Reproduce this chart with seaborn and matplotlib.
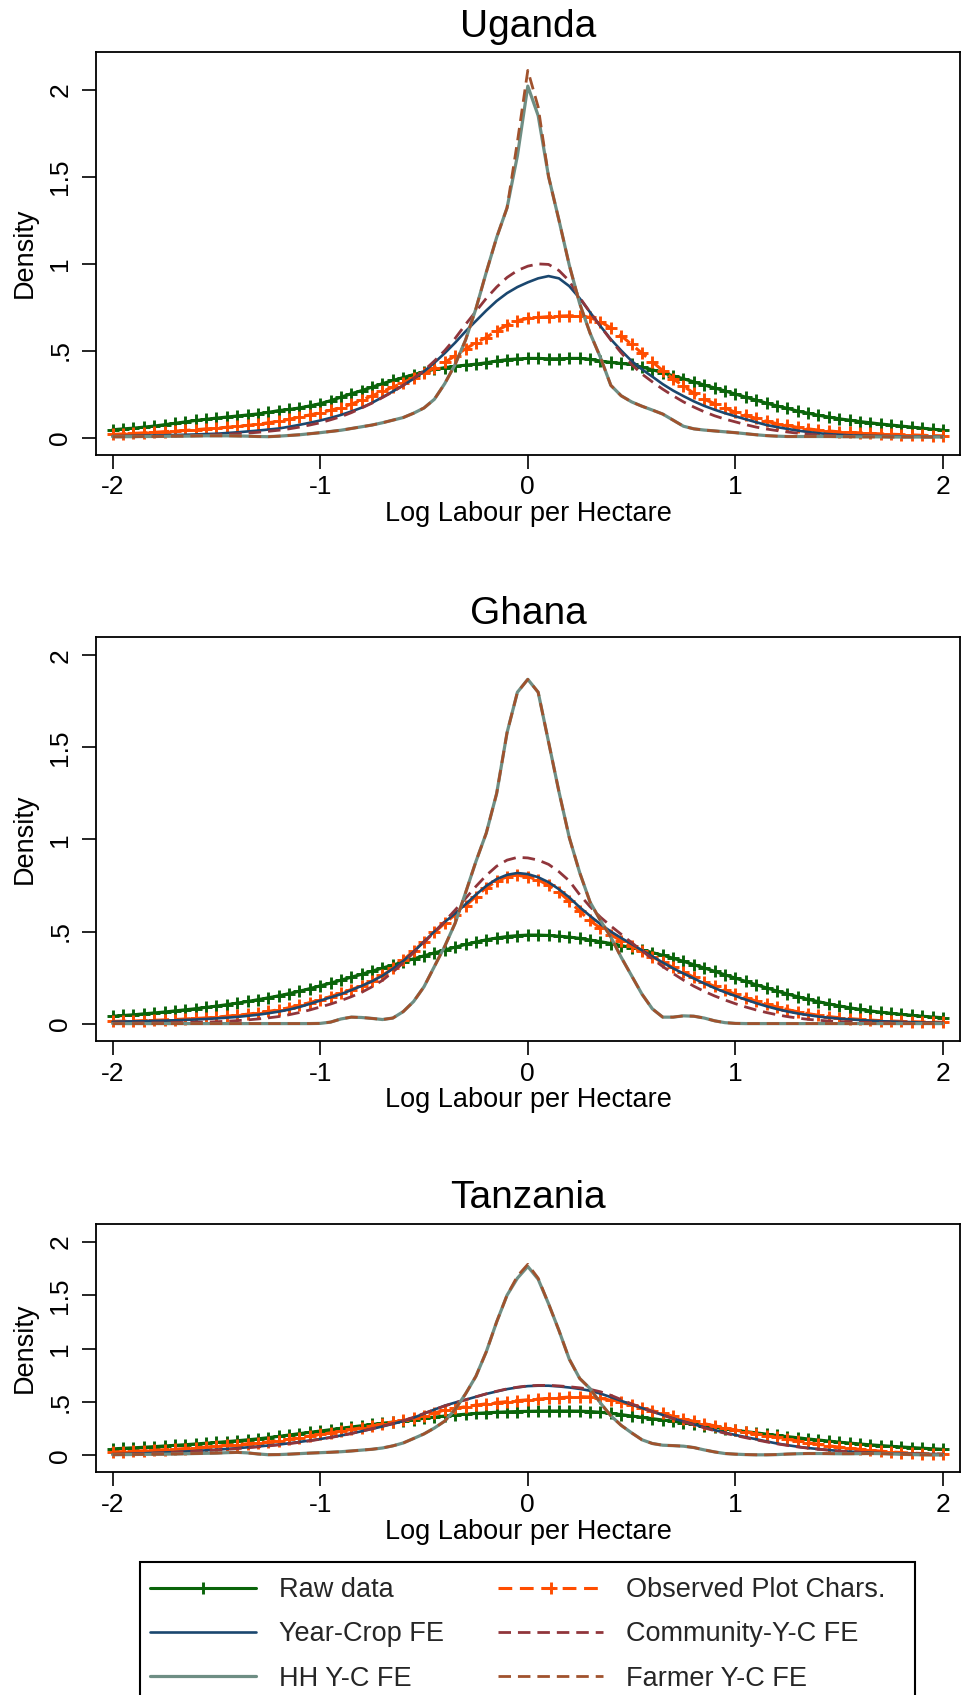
import numpy as np
import matplotlib
matplotlib.use("Agg")
import matplotlib.pyplot as plt
import seaborn as sns
from matplotlib.lines import Line2D
from matplotlib.patches import Rectangle

# ---------------- data (kernel density estimates) ----------------
# evaluation grid: -2.00, -1.95, ..., 2.00
x_grid = np.round(np.linspace(-2.0, 2.0, 81), 2)

series_labels = ["Raw data", "Observed Plot Chars.", "Year-Crop FE",
                 "Community-Y-C FE", "HH Y-C FE", "Farmer Y-C FE"]
panel_titles = ["Uganda", "Ghana", "Tanzania"]
x_ticks = [-2, -1, 0, 1, 2]
x_tick_labels = ["-2", "-1", "0", "1", "2"]
y_ticks = [0, 0.5, 1, 1.5, 2]
y_tick_labels = ["0", ".5", "1", "1.5", "2"]

# ---- Uganda ----
ug_raw = [0.045, 0.050, 0.054, 0.060, 0.066, 0.074, 0.082, 0.090, 0.098, 0.105,
          0.112, 0.118, 0.124, 0.130, 0.136, 0.145, 0.155, 0.162, 0.170, 0.182,
          0.195, 0.212, 0.232, 0.252, 0.270, 0.290, 0.310, 0.328, 0.345, 0.362,
          0.378, 0.392, 0.402, 0.410, 0.416, 0.422, 0.430, 0.440, 0.448, 0.452,
          0.455,
          0.455, 0.453, 0.453, 0.455, 0.455, 0.450, 0.440, 0.432, 0.426, 0.420,
          0.405, 0.390, 0.372, 0.355, 0.338, 0.320, 0.302, 0.285, 0.268, 0.250,
          0.232, 0.215, 0.198, 0.182, 0.168, 0.152, 0.140, 0.128, 0.118, 0.108,
          0.100, 0.092, 0.085, 0.078, 0.072, 0.066, 0.060, 0.054, 0.048, 0.043]
ug_obs = [0.018, 0.021, 0.024, 0.027, 0.030, 0.034, 0.037, 0.041, 0.045, 0.050,
          0.054, 0.059, 0.064, 0.070, 0.077, 0.085, 0.094, 0.105, 0.118, 0.130,
          0.143, 0.157, 0.172, 0.192, 0.215, 0.240, 0.265, 0.290, 0.315, 0.345,
          0.372, 0.400, 0.432, 0.470, 0.510, 0.545, 0.575, 0.615, 0.645, 0.672,
          0.685,
          0.690, 0.695, 0.698, 0.700, 0.700, 0.690, 0.665, 0.630, 0.585, 0.535,
          0.485, 0.435, 0.385, 0.338, 0.295, 0.255, 0.220, 0.195, 0.170, 0.145,
          0.127, 0.110, 0.093, 0.080, 0.070, 0.058, 0.050, 0.043, 0.038, 0.033,
          0.030, 0.027, 0.024, 0.021, 0.019, 0.017, 0.015, 0.013, 0.011, 0.010]
ug_yc = [0.008, 0.009, 0.010, 0.011, 0.012, 0.013, 0.015, 0.016, 0.018, 0.020,
         0.022, 0.026, 0.030, 0.035, 0.040, 0.046, 0.052, 0.062, 0.073, 0.085,
         0.098, 0.113, 0.130, 0.150, 0.172, 0.200, 0.232, 0.265, 0.300, 0.338,
         0.380, 0.430, 0.485, 0.545, 0.610, 0.670, 0.730, 0.785, 0.830, 0.865,
         0.892,
         0.915, 0.928, 0.915, 0.870, 0.800, 0.720, 0.640, 0.565, 0.500, 0.440,
         0.392, 0.350, 0.307, 0.270, 0.238, 0.208, 0.182, 0.160, 0.140, 0.122,
         0.105, 0.088, 0.072, 0.060, 0.050, 0.040, 0.032, 0.025, 0.020, 0.016,
         0.013, 0.011, 0.010, 0.009, 0.008, 0.007, 0.006, 0.006, 0.005, 0.005]
ug_comm = [0.004, 0.004, 0.005, 0.006, 0.007, 0.008, 0.009, 0.010, 0.012, 0.014,
           0.016, 0.019, 0.022, 0.026, 0.030, 0.036, 0.042, 0.050, 0.060, 0.072,
           0.085, 0.102, 0.120, 0.143, 0.170, 0.198, 0.230, 0.263, 0.300, 0.340,
           0.385, 0.440, 0.500, 0.570, 0.650, 0.725, 0.800, 0.865, 0.920, 0.960,
           0.985,
           0.998, 0.995, 0.960, 0.900, 0.805, 0.720, 0.640, 0.560, 0.487, 0.420,
           0.365, 0.320, 0.278, 0.240, 0.205, 0.175, 0.148, 0.125, 0.106, 0.090,
           0.074, 0.060, 0.049, 0.040, 0.032, 0.025, 0.019, 0.015, 0.012, 0.010,
           0.008, 0.007, 0.006, 0.005, 0.005, 0.004, 0.004, 0.003, 0.003, 0.003]
ug_hh = [0.005, 0.005, 0.005, 0.006, 0.006, 0.007, 0.008, 0.008, 0.009, 0.010,
         0.010, 0.010, 0.009, 0.008, 0.006, 0.005, 0.008, 0.012, 0.016, 0.022,
         0.028, 0.035, 0.042, 0.052, 0.062, 0.072, 0.085, 0.100, 0.115, 0.140,
         0.170, 0.220, 0.310, 0.420, 0.560, 0.740, 0.950, 1.150, 1.320, 1.620,
         2.020,
         1.850, 1.500, 1.250, 0.990, 0.770, 0.600, 0.460, 0.300, 0.240, 0.205,
         0.180, 0.158, 0.135, 0.100, 0.065, 0.050, 0.043, 0.038, 0.033, 0.028,
         0.022, 0.016, 0.011, 0.008, 0.006, 0.006, 0.006, 0.006, 0.006, 0.005,
         0.005, 0.004, 0.004, 0.004, 0.003, 0.003, 0.003, 0.003, 0.003, 0.003]
ug_farmer = [0.005, 0.005, 0.005, 0.006, 0.006, 0.007, 0.008, 0.008, 0.009, 0.010,
             0.010, 0.010, 0.009, 0.008, 0.006, 0.005, 0.008, 0.012, 0.016, 0.022,
             0.028, 0.035, 0.042, 0.052, 0.062, 0.072, 0.085, 0.100, 0.115, 0.140,
             0.170, 0.220, 0.310, 0.420, 0.560, 0.740, 0.950, 1.150, 1.320, 1.700,
             2.110,
             1.900, 1.500, 1.250, 0.990, 0.770, 0.600, 0.460, 0.300, 0.240, 0.205,
             0.180, 0.158, 0.135, 0.100, 0.065, 0.050, 0.043, 0.038, 0.033, 0.028,
             0.022, 0.016, 0.011, 0.008, 0.006, 0.006, 0.006, 0.006, 0.006, 0.005,
             0.005, 0.004, 0.004, 0.004, 0.003, 0.003, 0.003, 0.003, 0.003, 0.003]

# ---- Ghana ----
gh_raw = [0.040, 0.044, 0.048, 0.053, 0.058, 0.063, 0.069, 0.075, 0.081, 0.088,
          0.095, 0.103, 0.111, 0.120, 0.130, 0.140, 0.151, 0.163, 0.176, 0.190,
          0.205, 0.220, 0.236, 0.252, 0.268, 0.285, 0.302, 0.318, 0.335, 0.352,
          0.368, 0.384, 0.400, 0.415, 0.430, 0.443, 0.455, 0.465, 0.473, 0.478,
          0.481,
          0.481, 0.479, 0.475, 0.470, 0.463, 0.454, 0.445, 0.435, 0.424, 0.413,
          0.400, 0.386, 0.371, 0.355, 0.338, 0.320, 0.302, 0.284, 0.265, 0.247,
          0.229, 0.211, 0.194, 0.177, 0.161, 0.146, 0.132, 0.119, 0.107, 0.096,
          0.086, 0.077, 0.069, 0.062, 0.056, 0.050, 0.045, 0.040, 0.036, 0.032]
gh_obs = [0.012, 0.013, 0.014, 0.016, 0.018, 0.020, 0.022, 0.025, 0.028, 0.031,
          0.035, 0.040, 0.045, 0.051, 0.058, 0.066, 0.075, 0.086, 0.099, 0.114,
          0.130, 0.147, 0.166, 0.185, 0.205, 0.230, 0.262, 0.300, 0.345, 0.395,
          0.445, 0.495, 0.545, 0.592, 0.640, 0.690, 0.738, 0.775, 0.798, 0.805,
          0.798,
          0.780, 0.752, 0.715, 0.665, 0.610, 0.560, 0.518, 0.482, 0.450, 0.422,
          0.392, 0.362, 0.333, 0.305, 0.280, 0.252, 0.226, 0.202, 0.180, 0.160,
          0.140, 0.122, 0.105, 0.090, 0.076, 0.064, 0.054, 0.045, 0.038, 0.032,
          0.027, 0.023, 0.019, 0.016, 0.014, 0.012, 0.010, 0.009, 0.008, 0.007]
gh_yc = [0.010, 0.011, 0.012, 0.013, 0.015, 0.016, 0.018, 0.020, 0.022, 0.025,
         0.028, 0.032, 0.036, 0.042, 0.048, 0.056, 0.065, 0.076, 0.090, 0.107,
         0.125, 0.142, 0.160, 0.182, 0.205, 0.230, 0.260, 0.298, 0.340, 0.390,
         0.445, 0.500, 0.552, 0.598, 0.648, 0.700, 0.748, 0.785, 0.808, 0.818,
         0.812,
         0.795, 0.768, 0.730, 0.685, 0.632, 0.585, 0.540, 0.500, 0.465, 0.432,
         0.398, 0.365, 0.332, 0.300, 0.272, 0.245, 0.218, 0.193, 0.170, 0.150,
         0.130, 0.111, 0.094, 0.079, 0.066, 0.055, 0.046, 0.038, 0.032, 0.027,
         0.023, 0.019, 0.016, 0.013, 0.011, 0.009, 0.008, 0.006, 0.005, 0.004]
gh_comm = [0.003, 0.003, 0.003, 0.004, 0.004, 0.004, 0.005, 0.006, 0.007, 0.008,
           0.010, 0.013, 0.016, 0.020, 0.025, 0.031, 0.038, 0.048, 0.060, 0.074,
           0.090, 0.106, 0.125, 0.146, 0.170, 0.200, 0.235, 0.280, 0.330, 0.385,
           0.440, 0.497, 0.555, 0.617, 0.680, 0.745, 0.805, 0.855, 0.888, 0.903,
           0.900,
           0.888, 0.865, 0.825, 0.775, 0.700, 0.635, 0.578, 0.530, 0.485, 0.440,
           0.395, 0.352, 0.310, 0.272, 0.236, 0.203, 0.175, 0.150, 0.128, 0.108,
           0.090, 0.074, 0.060, 0.048, 0.038, 0.030, 0.023, 0.018, 0.014, 0.011,
           0.009, 0.007, 0.006, 0.005, 0.004, 0.004, 0.003, 0.003, 0.003, 0.003]
gh_hh = [0.000, 0.000, 0.000, 0.000, 0.000, 0.000, 0.000, 0.000, 0.000, 0.000,
         0.000, 0.000, 0.000, 0.000, 0.000, 0.000, 0.000, 0.000, 0.000, 0.000,
         0.001, 0.008, 0.025, 0.035, 0.033, 0.028, 0.022, 0.030, 0.065, 0.120,
         0.200, 0.310, 0.420, 0.545, 0.710, 0.880, 1.035, 1.250, 1.580, 1.800,
         1.870,
         1.800, 1.530, 1.260, 1.010, 0.820, 0.660, 0.560, 0.470, 0.360, 0.260,
         0.160, 0.080, 0.035, 0.035, 0.042, 0.040, 0.030, 0.015, 0.005, 0.001,
         0.000, 0.000, 0.000, 0.000, 0.000, 0.000, 0.000, 0.000, 0.000, 0.000,
         0.000, 0.000, 0.000, 0.000, 0.000, 0.000, 0.000, 0.000, 0.000, 0.000]
gh_farmer = [0.000, 0.000, 0.000, 0.000, 0.000, 0.000, 0.000, 0.000, 0.000, 0.000,
             0.000, 0.000, 0.000, 0.000, 0.000, 0.000, 0.000, 0.000, 0.000, 0.000,
             0.001, 0.008, 0.025, 0.035, 0.033, 0.028, 0.022, 0.030, 0.065, 0.120,
             0.200, 0.310, 0.420, 0.545, 0.710, 0.880, 1.035, 1.250, 1.580, 1.800,
             1.870,
             1.800, 1.530, 1.260, 1.010, 0.820, 0.660, 0.560, 0.470, 0.360, 0.260,
             0.160, 0.080, 0.035, 0.035, 0.042, 0.040, 0.030, 0.015, 0.005, 0.001,
             0.000, 0.000, 0.000, 0.000, 0.000, 0.000, 0.000, 0.000, 0.000, 0.000,
             0.000, 0.000, 0.000, 0.000, 0.000, 0.000, 0.000, 0.000, 0.000, 0.000]

# ---- Tanzania ----
tz_raw = [0.060, 0.065, 0.070, 0.075, 0.081, 0.087, 0.093, 0.099, 0.106, 0.113,
          0.120, 0.128, 0.136, 0.145, 0.154, 0.165, 0.177, 0.190, 0.203, 0.215,
          0.227, 0.240, 0.253, 0.265, 0.277, 0.289, 0.300, 0.311, 0.322, 0.334,
          0.346, 0.357, 0.368, 0.377, 0.385, 0.392, 0.398, 0.403, 0.407, 0.410,
          0.412,
          0.414, 0.415, 0.415, 0.415, 0.414, 0.410, 0.403, 0.393, 0.381, 0.368,
          0.355, 0.343, 0.331, 0.319, 0.306, 0.292, 0.277, 0.262, 0.248, 0.235,
          0.222, 0.210, 0.198, 0.186, 0.175, 0.164, 0.153, 0.143, 0.133, 0.123,
          0.114, 0.106, 0.098, 0.091, 0.084, 0.078, 0.072, 0.066, 0.061, 0.056]
tz_obs = [0.030, 0.034, 0.038, 0.042, 0.047, 0.052, 0.057, 0.063, 0.070, 0.077,
          0.084, 0.092, 0.100, 0.108, 0.116, 0.125, 0.136, 0.150, 0.165, 0.180,
          0.195, 0.210, 0.225, 0.242, 0.258, 0.275, 0.292, 0.310, 0.328, 0.347,
          0.370, 0.395, 0.425, 0.440, 0.455, 0.470, 0.482, 0.493, 0.503, 0.512,
          0.520,
          0.527, 0.533, 0.539, 0.545, 0.549, 0.546, 0.535, 0.515, 0.495, 0.470,
          0.442, 0.418, 0.393, 0.365, 0.340, 0.318, 0.296, 0.276, 0.256, 0.237,
          0.218, 0.200, 0.183, 0.167, 0.150, 0.134, 0.118, 0.103, 0.089, 0.076,
          0.065, 0.055, 0.046, 0.038, 0.031, 0.025, 0.020, 0.016, 0.013, 0.011]
tz_yc = [0.010, 0.012, 0.015, 0.018, 0.022, 0.026, 0.030, 0.035, 0.040, 0.046,
         0.052, 0.059, 0.066, 0.074, 0.082, 0.091, 0.100, 0.112, 0.125, 0.138,
         0.152, 0.168, 0.185, 0.204, 0.225, 0.247, 0.270, 0.294, 0.320, 0.352,
         0.390, 0.428, 0.465, 0.494, 0.520, 0.548, 0.575, 0.598, 0.620, 0.636,
         0.648,
         0.652, 0.652, 0.645, 0.635, 0.622, 0.605, 0.578, 0.545, 0.510, 0.475,
         0.442, 0.410, 0.377, 0.345, 0.317, 0.290, 0.262, 0.235, 0.212, 0.190,
         0.170, 0.150, 0.130, 0.110, 0.095, 0.080, 0.068, 0.058, 0.049, 0.040,
         0.034, 0.028, 0.024, 0.020, 0.017, 0.015, 0.013, 0.012, 0.011, 0.010]
tz_comm = [0.008, 0.010, 0.012, 0.015, 0.018, 0.022, 0.026, 0.031, 0.036, 0.042,
           0.048, 0.055, 0.062, 0.070, 0.078, 0.087, 0.097, 0.108, 0.121, 0.135,
           0.150, 0.166, 0.184, 0.204, 0.226, 0.249, 0.273, 0.298, 0.325, 0.356,
           0.392, 0.428, 0.462, 0.492, 0.520, 0.548, 0.576, 0.600, 0.622, 0.638,
           0.650,
           0.655, 0.655, 0.650, 0.642, 0.632, 0.618, 0.595, 0.562, 0.522, 0.482,
           0.445, 0.410, 0.376, 0.343, 0.313, 0.285, 0.257, 0.230, 0.206, 0.185,
           0.164, 0.144, 0.125, 0.107, 0.092, 0.078, 0.066, 0.056, 0.047, 0.039,
           0.032, 0.027, 0.023, 0.019, 0.016, 0.014, 0.012, 0.011, 0.010, 0.009]
tz_hh = [0.005, 0.006, 0.007, 0.008, 0.009, 0.010, 0.012, 0.014, 0.016, 0.018,
         0.020, 0.024, 0.027, 0.022, 0.012, 0.005, 0.006, 0.010, 0.015, 0.020,
         0.024, 0.028, 0.033, 0.040, 0.048, 0.056, 0.068, 0.088, 0.115, 0.157,
         0.200, 0.255, 0.320, 0.430, 0.575, 0.740, 0.970, 1.250, 1.500, 1.660,
         1.770,
         1.650, 1.420, 1.170, 0.900, 0.720, 0.625, 0.490, 0.370, 0.280, 0.210,
         0.145, 0.110, 0.094, 0.090, 0.085, 0.072, 0.050, 0.031, 0.016, 0.010,
         0.006, 0.004, 0.004, 0.006, 0.011, 0.014, 0.016, 0.016, 0.015, 0.014,
         0.014, 0.015, 0.016, 0.015, 0.012, 0.009, 0.006, 0.004, 0.003, 0.002]
tz_farmer = [0.005, 0.006, 0.007, 0.008, 0.009, 0.010, 0.012, 0.014, 0.016, 0.018,
             0.020, 0.024, 0.027, 0.022, 0.012, 0.005, 0.006, 0.010, 0.015, 0.020,
             0.024, 0.028, 0.033, 0.040, 0.048, 0.056, 0.068, 0.088, 0.115, 0.157,
             0.200, 0.255, 0.320, 0.430, 0.575, 0.740, 0.970, 1.250, 1.500, 1.680,
             1.790,
             1.660, 1.420, 1.170, 0.900, 0.720, 0.625, 0.490, 0.370, 0.280, 0.210,
             0.145, 0.110, 0.094, 0.090, 0.085, 0.072, 0.050, 0.031, 0.016, 0.010,
             0.006, 0.004, 0.004, 0.006, 0.011, 0.014, 0.016, 0.016, 0.015, 0.014,
             0.014, 0.015, 0.016, 0.015, 0.012, 0.009, 0.006, 0.004, 0.003, 0.002]

panel_series = [
    [ug_raw, ug_obs, ug_yc, ug_comm, ug_hh, ug_farmer],
    [gh_raw, gh_obs, gh_yc, gh_comm, gh_hh, gh_farmer],
    [tz_raw, tz_obs, tz_yc, tz_comm, tz_hh, tz_farmer],
]

# ---------------- styling ----------------
sns.set_theme(style="white")
plt.rcParams["font.family"] = ["Liberation Sans", "DejaVu Sans"]
plt.rcParams["axes.unicode_minus"] = False

FW, FH = 963, 1695
DASH = (0, (4.5, 2.5))
styles = [
    dict(color="#0a640a", linewidth=2.2, linestyle="-", marker="+", markersize=9,
         markeredgewidth=2.1, markeredgecolor="#0a640a"),
    dict(color="#ff4d00", linewidth=2.2, linestyle=DASH, marker="+", markersize=9,
         markeredgewidth=2.1, markeredgecolor="#ff4d00"),
    dict(color="#1a476f", linewidth=1.9, linestyle="-"),
    dict(color="#90353b", linewidth=2.0, linestyle=DASH),
    dict(color="#6e8e84", linewidth=2.3, linestyle="-"),
    dict(color="#a0522d", linewidth=2.0, linestyle=DASH),
]

# pixel layout of the three plot regions: (top, bottom) in pixels, y-limits, title y
layout = [
    (51.8, 454.6, (-0.098, 2.217), 27),
    (637.0, 1040.7, (-0.093, 2.100), 614),
    (1223.8, 1472.3, (-0.160, 2.170), 1197.5),
]
AX_L, AX_R = 96, 960

fig = plt.figure(figsize=(FW / 100, FH / 100), dpi=100)
fig.patch.set_facecolor("white")

for title, series, (top, bot, ylim, ty) in zip(panel_titles, panel_series, layout):
    ax = fig.add_axes([AX_L / FW, 1 - bot / FH, (AX_R - AX_L) / FW, (bot - top) / FH])
    for ys, st in zip(series, styles):
        sns.lineplot(x=x_grid, y=ys, ax=ax, errorbar=None, legend=False, **st)
    ax.set_xlim(-2.08, 2.082)
    ax.set_ylim(*ylim)
    ax.set_xticks(x_ticks)
    ax.set_xticklabels(x_tick_labels)
    ax.set_yticks(y_ticks)
    ax.set_yticklabels(y_tick_labels, rotation=90, va="center")
    ax.tick_params(axis="both", direction="out", length=10, width=1.2, color="black",
                   labelsize=19, labelcolor="black", bottom=True, left=True)
    ax.tick_params(axis="x", pad=5)
    ax.tick_params(axis="y", pad=7)
    for sp in ax.spines.values():
        sp.set_color("black")
        sp.set_linewidth(1.3)
    ax.set_xlabel("Log Labour per Hectare", fontsize=19.5, labelpad=1, color="black")
    ax.set_ylabel("Density", fontsize=19.5, labelpad=8, color="black")
    ax.set_facecolor("white")
    fig.text((AX_L + AX_R) / 2 / FW, 1 - ty / FH, title, ha="center", va="center",
             fontsize=28, color="black")

# ---------------- legend ----------------
order = [0, 2, 4, 1, 3, 5]
handles = []
for i in order:
    st = dict(styles[i])
    handles.append(Line2D([], [], **st))
labels = [series_labels[i] for i in order]

fig.add_artist(Rectangle((140 / FW, 1 - 1702 / FH), (915 - 140) / FW, (1702 - 1562) / FH,
                         transform=fig.transFigure, fill=False, edgecolor="black",
                         linewidth=1.5))
fig.legend(handles, labels, ncol=2, loc="upper left",
           bbox_to_anchor=(150 / FW, 1 - 1577 / FH), frameon=False, fontsize=19.5,
           handlelength=3.9, handletextpad=0.85, columnspacing=2.0, labelspacing=0.68,
           borderpad=0, borderaxespad=0, numpoints=1)

fig.savefig("out.png", dpi=100, facecolor="white")
